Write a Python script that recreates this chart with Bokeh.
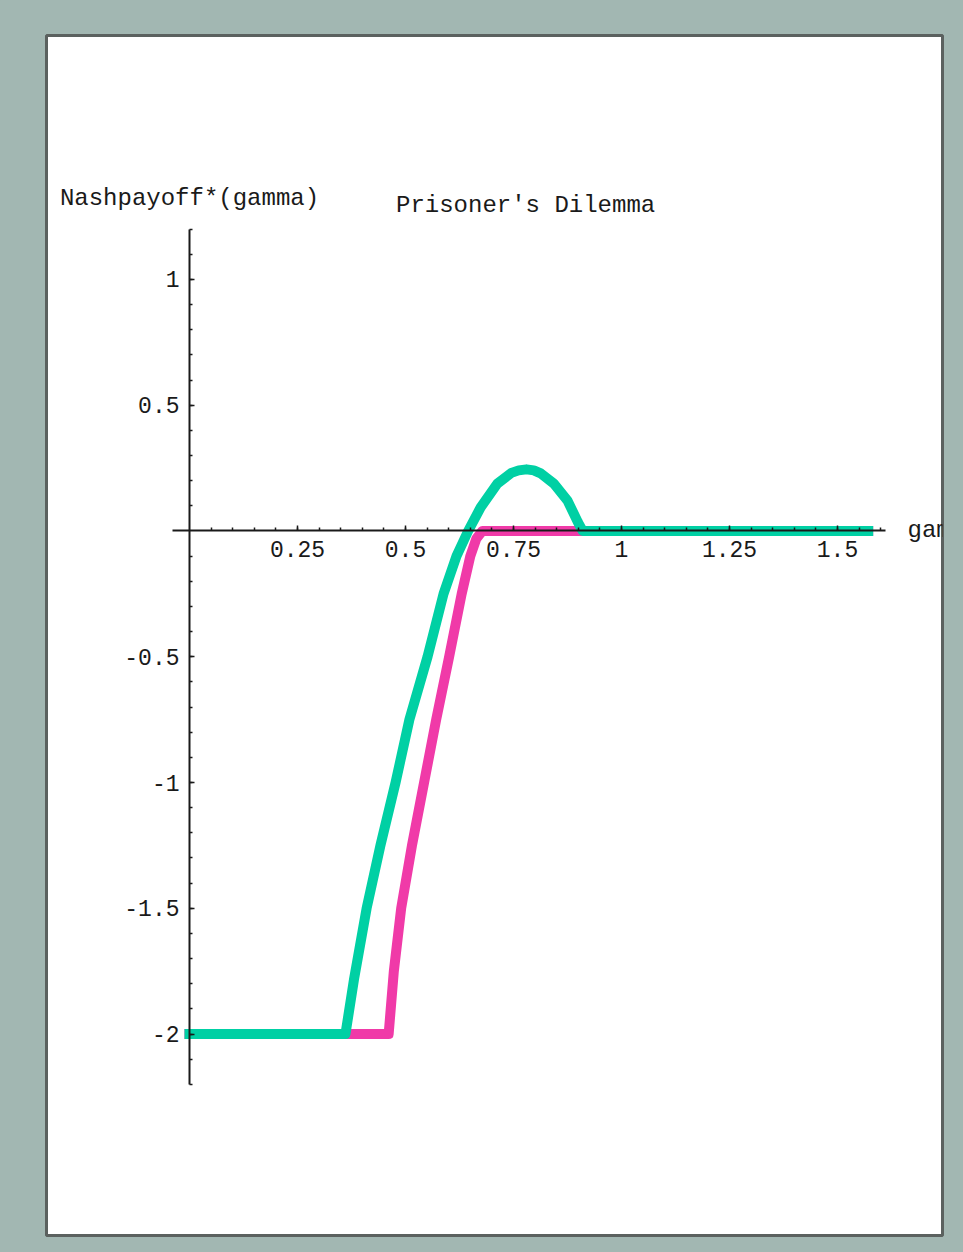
from bokeh.plotting import figure
from bokeh.models import (LinearAxis, FixedTicker, Range1d, Label,
                          GlobalInlineStyleSheet)
from bokeh.core.properties import value
from bokeh.embed import file_html
from bokeh.resources import INLINE

# ---- data ----
green_x = [0.0, 0.361, 0.381, 0.410, 0.442, 0.477, 0.509, 0.551, 0.588,
           0.618, 0.645, 0.674, 0.713, 0.745, 0.762, 0.780, 0.797, 0.813,
           0.843, 0.875, 0.899, 0.910, 1.571]
green_y = [-2.0, -2.0, -1.78, -1.5, -1.25, -1.0, -0.75, -0.5, -0.25,
           -0.1, 0.0, 0.094, 0.189, 0.231, 0.241, 0.245, 0.241, 0.229,
           0.189, 0.121, 0.035, 0.0, 0.0]

pink_x = [0.0, 0.461, 0.473, 0.490, 0.515, 0.543, 0.571, 0.601, 0.630,
          0.650, 0.664, 0.678, 0.900, 1.571]
pink_y = [-2.0, -2.0, -1.75, -1.5, -1.25, -1.0, -0.75, -0.5, -0.25,
          -0.1, -0.03, 0.0, 0.0, 0.0]

x_ticks = [0.25, 0.5, 0.75, 1, 1.25, 1.5]
x_tick_labels = ["0.25", "0.5", "0.75", "1", "1.25", "1.5"]
y_ticks = [-2, -1.5, -1, -0.5, 0.5, 1]
y_tick_labels = ["-2", "-1.5", "-1", "-0.5", "0.5", "1"]
x_minor = [round(0.05 * i, 2) for i in range(1, 33)]
y_minor = [round(0.1 * i, 1) for i in range(-22, 13) if i != 0]

title_text = "Prisoner's Dilemma"
y_label_text = "Nashpayoff*(gamma)"
x_label_text = "gamma"

FONT = "Liberation Mono"
FRAME_BG = "#a2b7b2"
INK = "#1a1a1a"

p = figure(width=963, height=1252, output_backend="svg",
           toolbar_location=None, title=None,
           x_axis_location=None, y_axis_location=None,
           x_range=Range1d(-0.331, 1.743), y_range=Range1d(-2.801, 1.970),
           min_border_left=46, min_border_right=21,
           min_border_top=35, min_border_bottom=17)
p.xgrid.visible = False
p.ygrid.visible = False
p.background_fill_color = "white"
p.border_fill_color = FRAME_BG
p.outline_line_color = "#5b615f"
p.outline_line_width = 3
p.stylesheets = [GlobalInlineStyleSheet(css="body{background:%s;}" % FRAME_BG)]

# axes crossing at the origin (Mathematica style)
xaxis = LinearAxis(fixed_location=0, bounds=(-0.04, 1.612),
                   ticker=FixedTicker(ticks=x_ticks, minor_ticks=x_minor))
xaxis.major_label_overrides = dict(zip(x_ticks, x_tick_labels))
yaxis = LinearAxis(fixed_location=0, bounds=(-2.2, 1.2),
                   ticker=FixedTicker(ticks=y_ticks, minor_ticks=y_minor))
yaxis.major_label_overrides = dict(zip(y_ticks, y_tick_labels))

for ax in (xaxis, yaxis):
    ax.axis_line_color = INK
    ax.axis_line_width = 2
    ax.major_tick_line_color = INK
    ax.minor_tick_line_color = INK
    ax.major_tick_line_width = 1.5
    ax.minor_tick_line_width = 1.5
    ax.major_tick_in = 5
    ax.major_tick_out = 0
    ax.minor_tick_in = 3
    ax.minor_tick_out = 0
    ax.major_label_text_font = FONT
    ax.major_label_text_font_size = "23px"
    ax.major_label_text_color = INK
    ax.major_label_standoff = 10

p.add_layout(xaxis, "below")
p.add_layout(yaxis, "left")

# curves
p.line(pink_x, pink_y, line_color="#f03aa8", line_width=10,
       line_cap="square", line_join="round")
p.line(green_x, green_y, line_color="#00d0a4", line_width=10,
       line_cap="square", line_join="round")

# texts
p.add_layout(Label(x=0, y=1.322, text=y_label_text, text_align="center",
                   text_baseline="middle", text_font=FONT,
                   text_font_size="24px", text_color=INK))
p.add_layout(Label(x=0.778, y=1.294, text=title_text, text_align="center",
                   text_baseline="middle", text_font=FONT,
                   text_font_size="24px", text_color=INK))
p.text(x=[1.662], y=[0], text=[x_label_text], text_align="left",
       text_baseline="middle", text_font=value(FONT),
       text_font_size="24px", text_color=INK)

open("out.html", "w").write(file_html(p, INLINE))
